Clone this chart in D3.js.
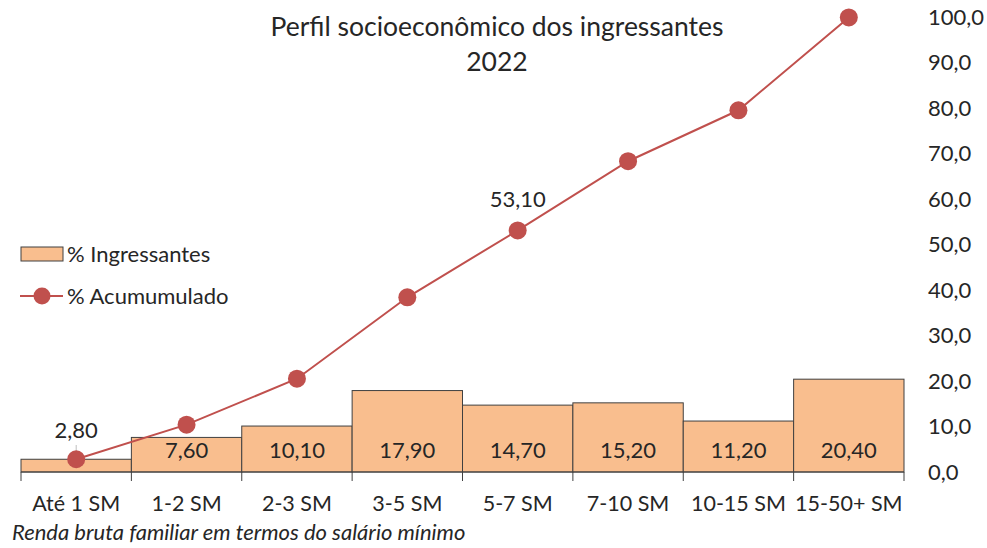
<!DOCTYPE html>
<html><head><meta charset="utf-8">
<script src="https://cdn.jsdelivr.net/npm/d3@7"></script>
<style>body{margin:0;background:#fff;} text{font-family:Lato, "Open Sans", sans-serif;fill:#262626;}</style>
</head><body>
<svg id="c" width="987" height="548"></svg>
<script>
const categories = ["Até 1 SM","1-2 SM","2-3 SM","3-5 SM","5-7 SM","7-10 SM","10-15 SM","15-50+ SM"];
const ingressantes = [2.80,7.60,10.10,17.90,14.70,15.20,11.20,20.40];
const acumulado = [2.80,10.40,20.50,38.40,53.10,68.30,79.50,99.90];
const yTicks = [0,10,20,30,40,50,60,70,80,90,100];
const titleLines = ["Perfil socioeconômico dos ingressantes","2022"];
const xTitle = "Renda bruta familiar em termos do salário mínimo";
const seriesNames = ["% Ingressantes","% Acumumulado"];

const svg = d3.select("#c");
const x = d3.scaleBand().domain(categories).range([21,904]).paddingInner(0).paddingOuter(0);
const y = d3.scaleLinear().domain([0,100]).range([472,17]);
const fmt2 = v => v.toFixed(2).replace(".",",");
const fmt1 = v => v.toFixed(1).replace(".",",");
const barColor = "#F9BE8E", lineColor = "#C0504D";
const FS = 22;

// bars
svg.selectAll("rect.bar").data(ingressantes).join("rect").attr("class","bar")
  .attr("x",(d,i)=>x(categories[i])).attr("width",x.bandwidth())
  .attr("y",d=>y(d)).attr("height",d=>y(0)-y(d))
  .attr("fill",barColor).attr("stroke","#404040").attr("stroke-width",1);

// x axis
const xa = svg.append("g").attr("transform","translate(0,472)");
xa.append("line").attr("x1",21).attr("x2",904).attr("stroke","#404040").attr("stroke-width",1);
const bounds = categories.map(c=>x(c)).concat([x(categories[categories.length-1])+x.bandwidth()]);
xa.selectAll("line.t").data(bounds).join("line").attr("class","t")
  .attr("x1",d=>d).attr("x2",d=>d).attr("y1",0).attr("y2",9).attr("stroke","#404040");
xa.selectAll("text").data(categories).join("text")
  .attr("x",d=>x(d)+x.bandwidth()/2).attr("y",39).attr("text-anchor","middle")
  .attr("font-size",21.5).text(d=>d);

// y axis labels (right)
svg.selectAll("text.yt").data(yTicks).join("text").attr("class","yt")
  .attr("x",928).attr("y",d=>y(d)).attr("dy","0.35em").attr("font-size",FS).text(d=>fmt1(d));

// bar labels
svg.selectAll("text.bl").data(ingressantes).join("text").attr("class","bl")
  .attr("x",(d,i)=>x(categories[i])+x.bandwidth()/2)
  .attr("y",(d,i)=> i===0 ? 430 : 450).attr("dy","0.35em")
  .attr("text-anchor","middle").attr("font-size",FS).text(d=>fmt2(d));
// leader line for first label
svg.append("line").attr("x1",x(categories[0])+x.bandwidth()/2).attr("x2",x(categories[0])+x.bandwidth()/2)
  .attr("y1",445).attr("y2",461).attr("stroke","#bfbfbf").attr("stroke-width",1);

// line
const cx = c => x(c)+x.bandwidth()/2;
svg.append("path").datum(acumulado)
  .attr("d",d3.line().x((d,i)=>cx(categories[i])).y(d=>y(d)))
  .attr("fill","none").attr("stroke",lineColor).attr("stroke-width",2);
svg.selectAll("circle.pt").data(acumulado).join("circle").attr("class","pt")
  .attr("cx",(d,i)=>cx(categories[i])).attr("cy",d=>y(d)).attr("r",9).attr("fill",lineColor);
// label 53,10
svg.append("text").attr("x",cx(categories[4])).attr("y",y(acumulado[4])-31).attr("dy","0.35em")
  .attr("text-anchor","middle").attr("font-size",FS).text(fmt2(acumulado[4]));

// title
svg.selectAll("text.title").data(titleLines).join("text").attr("class","title")
  .attr("x",497).attr("y",(d,i)=>27+i*35).attr("dy","0.35em").attr("text-anchor","middle")
  .attr("font-size",26.5).text(d=>d);

// x title
svg.append("text").attr("x",12).attr("y",540).attr("font-size",FS)
  .attr("font-style","italic").text(xTitle);

// legend
const lg = svg.append("g");
lg.append("rect").attr("x",21).attr("y",247).attr("width",42).attr("height",14)
  .attr("fill",barColor).attr("stroke","#404040");
lg.append("text").attr("x",67).attr("y",254).attr("dy","0.35em").attr("font-size",FS).text(seriesNames[0]);
lg.append("line").attr("x1",20).attr("x2",63).attr("y1",296).attr("y2",296).attr("stroke",lineColor).attr("stroke-width",2);
lg.append("circle").attr("cx",42).attr("cy",296).attr("r",8.5).attr("fill",lineColor);
lg.append("text").attr("x",67).attr("y",296).attr("dy","0.35em").attr("font-size",FS).text(seriesNames[1]);
</script>
</body></html>
